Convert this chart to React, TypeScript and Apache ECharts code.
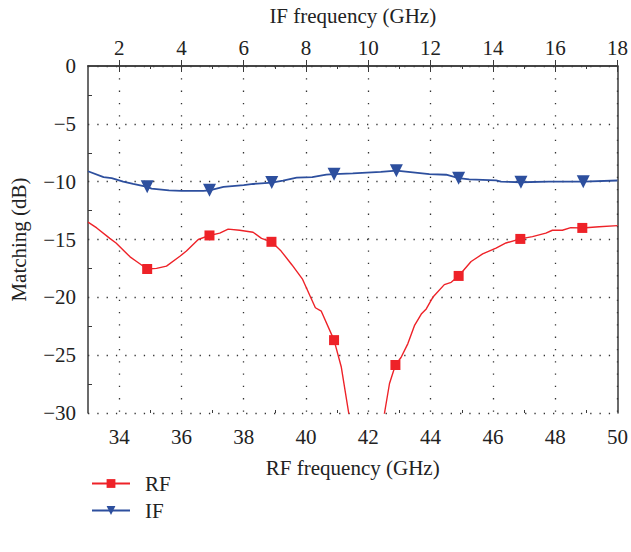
import React, { useEffect, useRef } from "react";
import * as echarts from "echarts";

const rfFreq = [33.0, 33.28, 33.7, 33.9, 34.35, 34.56, 34.9, 35.2, 35.52, 35.95, 36.16, 36.54, 36.9, 37.23, 37.5, 37.87, 38.3, 38.57, 38.89, 39.2, 39.55, 39.88, 40.3, 40.49, 40.9, 41.13, 41.37, 41.6, 42.4, 42.52, 42.68, 42.87, 43.05, 43.27, 43.48, 43.7, 43.86, 44.07, 44.44, 44.66, 44.9, 45.3, 45.67, 46.1, 46.42, 46.88, 47.27, 47.7, 47.91, 48.23, 48.5, 48.87, 49.41, 50.0];
const rfMatch = [-13.5, -14.0, -14.9, -15.3, -16.5, -16.9, -17.55, -17.5, -17.3, -16.45, -16.0, -15.0, -14.65, -14.45, -14.1, -14.2, -14.37, -14.9, -15.2, -16.0, -17.2, -18.4, -20.9, -21.2, -23.7, -26.0, -30.0, -33.5, -32.0, -30.0, -27.45, -25.85, -25.2, -24.0, -22.45, -21.45, -21.0, -20.0, -18.9, -18.7, -18.15, -16.9, -16.25, -15.75, -15.3, -14.95, -14.75, -14.45, -14.2, -14.2, -13.97, -14.0, -13.9, -13.8];
const rfMarkers = [34.9, 36.9, 38.89, 40.9, 42.87, 44.9, 46.88, 48.87];

const ifFreq = [1.0, 1.5, 1.76, 2.13, 2.45, 2.9, 3.04, 3.6, 4.0, 4.7, 4.9, 5.35, 6.0, 6.3, 6.9, 7.26, 7.7, 8.2, 8.65, 8.9, 9.5, 10.4, 10.9, 11.96, 12.5, 12.9, 13.24, 14.1, 14.26, 14.9, 15.8, 16.9, 18.0];
const ifMatch = [-9.1, -9.6, -9.7, -10.0, -10.2, -10.45, -10.6, -10.75, -10.8, -10.8, -10.75, -10.45, -10.3, -10.2, -10.08, -9.9, -9.65, -9.6, -9.4, -9.35, -9.28, -9.15, -9.05, -9.35, -9.4, -9.7, -9.8, -9.88, -10.0, -10.05, -10.0, -10.0, -9.9];
const ifMarkers = [2.9, 4.9, 6.9, 8.9, 10.9, 12.9, 14.9, 16.9];

const rfTicks = [34, 36, 38, 40, 42, 44, 46, 48, 50];
const rfMinorTicks = [35, 37, 39, 41, 43, 45, 47, 49];
const ifTicks = [2, 4, 6, 8, 10, 12, 14, 16, 18];
const ifMinorTicks = [3, 5, 7, 9, 11, 13, 15, 17];

const FONT = "Liberation Serif";
const FS = 21;
const AXIS_COLOR = "#3a3a3a";

function build(freq: number[], vals: number[], markers: number[]) {
  return freq.map((f, i) =>
    markers.includes(f) ? { value: [f, vals[i]] } : { value: [f, vals[i]], symbol: "none" }
  );
}

export default function App() {
  const ref = useRef<HTMLDivElement>(null);
  useEffect(() => {
    if (!ref.current) return;
    const chart = echarts.init(ref.current, null, { renderer: "svg" });
    const txt = { fontFamily: FONT, fontSize: FS, color: "#222" };
    const hideAxis = {
      axisLine: { show: false },
      axisLabel: { show: false },
      splitLine: { show: false },
    };
    chart.setOption({
      animation: false,
      textStyle: { fontFamily: FONT, fontSize: FS },
      grid: { left: 88, right: 13, top: 63, bottom: 139 },
      legend: {
        orient: "vertical",
        left: 86,
        top: 468,
        itemWidth: 38,
        itemHeight: 11,
        itemGap: 6,
        textStyle: { ...txt, padding: [0, 0, 0, 10] },
        data: ["RF", "IF"],
      },
      xAxis: [
        {
          type: "value",
          position: "bottom",
          min: 33,
          max: 50,
          name: "RF frequency (GHz)",
          nameLocation: "middle",
          nameGap: 44,
          nameTextStyle: txt,
          axisLine: { lineStyle: { color: AXIS_COLOR, width: 1.5 } },
          axisTick: { inside: true, length: 6, customValues: rfTicks, lineStyle: { color: AXIS_COLOR } },
          axisLabel: { ...txt, margin: 13, customValues: rfTicks },
          splitLine: { show: true, lineStyle: { color: "#333", width: 1.3, type: [1.3, 11] } },
        },
        {
          type: "value",
          position: "top",
          min: 1,
          max: 18,
          name: "IF frequency (GHz)",
          nameLocation: "middle",
          nameGap: 40,
          nameTextStyle: txt,
          axisLine: { lineStyle: { color: AXIS_COLOR, width: 1.5 } },
          axisTick: { inside: true, length: 6, customValues: ifTicks, lineStyle: { color: AXIS_COLOR } },
          axisLabel: { ...txt, margin: 8, customValues: ifTicks },
          splitLine: { show: false },
        },
        {
          type: "value",
          position: "bottom",
          min: 33,
          max: 50,
          ...hideAxis,
          axisTick: { inside: true, length: 3, customValues: rfMinorTicks, lineStyle: { color: AXIS_COLOR } },
        },
        {
          type: "value",
          position: "top",
          min: 1,
          max: 18,
          ...hideAxis,
          axisTick: { inside: true, length: 3, customValues: ifMinorTicks, lineStyle: { color: AXIS_COLOR } },
        },
      ],
      yAxis: [
        {
          type: "value",
          min: -30,
          max: 0,
          interval: 5,
          name: "Matching (dB)",
          nameLocation: "middle",
          nameGap: 59,
          nameTextStyle: txt,
          axisLine: { show: true, lineStyle: { color: AXIS_COLOR, width: 1.5 } },
          axisTick: { show: true, inside: true, length: 0 },
          minorTick: { show: true, splitNumber: 2, length: 4, lineStyle: { color: AXIS_COLOR } },
          axisLabel: {
            ...txt,
            margin: 12,
            formatter: (v: number) => (v < 0 ? "\u2212" + Math.abs(v) : String(v)),
          },
          splitLine: { show: true, lineStyle: { color: "#333", width: 1.3, type: [1.3, 8] } },
        },
        {
          type: "value",
          position: "right",
          min: -30,
          max: 0,
          interval: 5,
          axisLine: { show: true, lineStyle: { color: AXIS_COLOR, width: 1.5 } },
          axisTick: { show: false },
          axisLabel: { show: false },
          splitLine: { show: false },
        },
      ],
      series: [
        {
          name: "RF",
          type: "line",
          xAxisIndex: 0,
          yAxisIndex: 0,
          clip: true,
          symbol: "rect",
          symbolSize: 10,
          showSymbol: true,
          color: "#ee2228",
          lineStyle: { width: 1.4, color: "#ee2228" },
          itemStyle: { color: "#ee2228" },
          data: build(rfFreq, rfMatch, rfMarkers),
        },
        {
          name: "IF",
          type: "line",
          xAxisIndex: 1,
          yAxisIndex: 0,
          clip: true,
          symbol: "triangle",
          symbolRotate: 180,
          symbolSize: 13,
          showSymbol: true,
          color: "#2d4f9e",
          lineStyle: { width: 1.8, color: "#2d4f9e" },
          itemStyle: { color: "#2d4f9e" },
          data: build(ifFreq, ifMatch, ifMarkers),
        },
      ],
    });
    return () => chart.dispose();
  }, []);
  return <div ref={ref} style={{ width: 631, height: 552, position: "absolute", left: 0, top: 0 }} />;
}
